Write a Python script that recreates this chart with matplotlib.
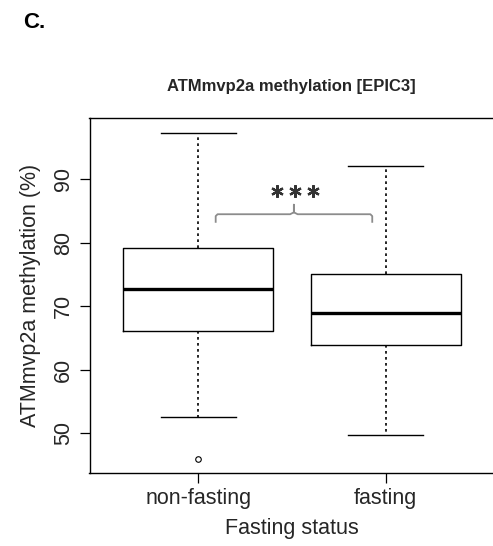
#!/usr/bin/env python3
"""Boxplot of ATMmvp2a methylation by fasting status."""

import matplotlib

matplotlib.use("Agg")
import matplotlib.pyplot as plt

groups = ["non-fasting", "fasting"]
whislo = [52.5, 49.7]
q1 = [66.1, 63.9]
med = [72.8, 69.0]
q3 = [79.2, 75.1]
whishi = [97.3, 92.1]
fliers = [[45.95], []]
yticks = [50, 60, 70, 80, 90]

TXT = "#262626"


def main() -> None:
    plt.rcParams["font.family"] = ["Liberation Sans", "DejaVu Sans"]
    fig = plt.figure(figsize=(4.93, 5.46), dpi=100)
    ax = fig.add_axes([89.5 / 493, 73 / 546, 405 / 493, 355 / 546])

    stats = []
    for i, name in enumerate(groups):
        stats.append(
            {
                "label": name,
                "whislo": whislo[i],
                "q1": q1[i],
                "med": med[i],
                "q3": q3[i],
                "whishi": whishi[i],
                "fliers": fliers[i],
            }
        )
    ax.bxp(
        stats,
        positions=[1, 2],
        widths=0.8,
        showfliers=True,
        boxprops=dict(color="black", linewidth=1.0),
        medianprops=dict(color="black", linewidth=2.4),
        whiskerprops=dict(color="black", linewidth=1.2, linestyle=(0, (1.6, 2.0))),
        capprops=dict(color="black", linewidth=1.0),
        capwidths=0.4,
        flierprops=dict(marker="o", markersize=4, markerfacecolor="none",
                        markeredgecolor="black", markeredgewidth=0.8),
    )

    ax.set_xlim(0.42, 2.58)
    ax.set_ylim(43.76, 99.65)
    ax.set_yticks(yticks)
    ax.set_yticklabels([str(v) for v in yticks], rotation=90, va="center")
    ax.tick_params(axis="both", direction="out", length=7, width=0.9,
                   labelsize=15.5, labelcolor=TXT, pad=4)
    for sp in ax.spines.values():
        sp.set_linewidth(1.0)

    ax.set_xlabel("Fasting status", fontsize=15.5, color=TXT, labelpad=6)
    ax.set_ylabel("ATMmvp2a methylation (%)", fontsize=15.5, color=TXT, labelpad=9)

    # significance bracket
    bx = [1.093, 1.093, 1.103, 1.49, 1.51, 1.51, 1.51, 1.53, 1.918, 1.928, 1.928]
    by = [83.3, 84.2, 84.5, 84.5, 84.8, 86.0, 84.8, 84.5, 84.5, 84.2, 83.3]
    ax.plot(bx, by, color="#8c8c8c", linewidth=1.3, solid_joinstyle="round")
    star_x = [1.418, 1.516, 1.614]
    ax.plot(star_x, [88.2] * 3, linestyle="none", marker=(6, 2, 0), markersize=9,
            markeredgewidth=1.6, color="#333333")

    fig.text(291 / 493, 1 - 86 / 546, "ATMmvp2a methylation [EPIC3]", fontsize=12,
             fontweight="bold", ha="center", va="center", color=TXT)
    fig.text(23 / 493, 1 - 23 / 546, "C.", fontsize=16, fontweight="bold",
             ha="left", va="center", color="black")

    fig.savefig("out.png", dpi=100)
    plt.close(fig)


if __name__ == "__main__":
    main()
